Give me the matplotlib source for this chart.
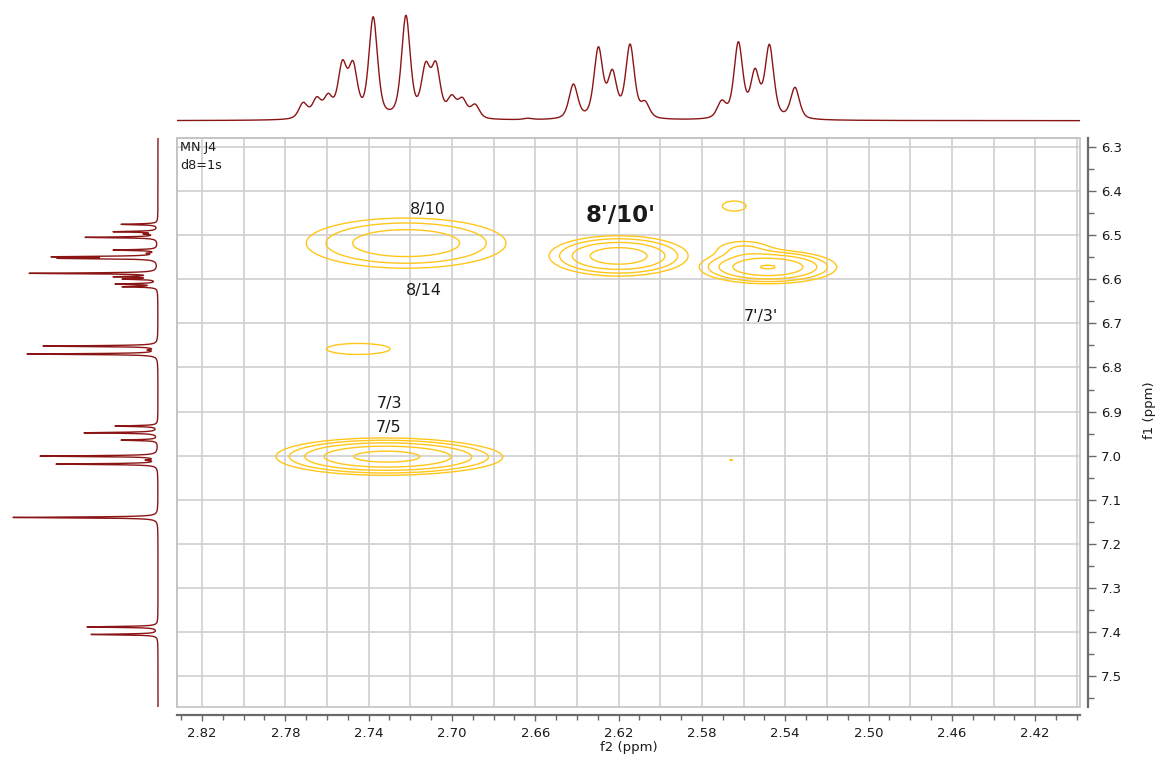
import numpy as np
import matplotlib
matplotlib.use("Agg")
import matplotlib.pyplot as plt
from matplotlib.patches import Rectangle
from matplotlib.ticker import FixedLocator, MultipleLocator

# ---------------- data ----------------
# top 1D projection (f2): line positions (ppm) and heights (px above baseline)
top_ppm = [2.7714, 2.7649, 2.7594, 2.7526, 2.7475, 2.7378, 2.7221, 2.7126, 2.7077,
           2.7001, 2.6950, 2.6889, 2.6635, 2.6417, 2.6297, 2.6230, 2.6145, 2.6073,
           2.5705, 2.5625, 2.5545, 2.5476, 2.5353]
top_height = [18.4, 24.0, 27.4, 60.7, 60.0, 104.0, 105.4, 59.0, 59.4,
              26.0, 23.4, 16.7, 2.5, 36.7, 74.0, 51.4, 76.7, 20.0,
              20.7, 79.0, 52.4, 76.4, 33.4]

# left 1D projection (f1): line positions (ppm) and depths (px from baseline)
side_ppm = [6.4754, 6.4921, 6.4974, 6.5049, 6.5337, 6.5411, 6.5489, 6.5525, 6.5865,
            6.5942, 6.5995, 6.6108, 6.6169, 6.7515, 6.7605, 6.7696, 6.9329, 6.9481,
            6.9647, 7.0010, 7.0101, 7.0191, 7.1401, 7.3883, 7.4055]
side_height = [37, 45, 15, 73, 45, 12, 107, 101, 129,
               45, 36, 43, 36, 115, 11, 131, 43, 74,
               37, 118, 13, 102, 145, 71, 67]

# 2D cross peaks: f2 centre, f1 centre, amplitude (in units of lowest level), widths, group
cross_f2 = [2.722, 2.620, 2.5483, 2.560, 2.745, 2.5645, 2.566, 2.7335, 2.712]
cross_f1 = [6.518, 6.547, 6.5722, 6.532, 6.758, 6.434, 7.010, 7.002, 7.004]
cross_amp = [7.0, 12.2, 16.6, 2.2, 1.25, 1.2, 1.04, 19.0, 3.0]
cross_wf2 = [0.0243, 0.0149, 0.0139, 0.009, 0.023, 0.0095, 0.004, 0.0210, 0.020]
cross_wf1 = [0.0288, 0.0204, 0.0160, 0.014, 0.0187, 0.019, 0.004, 0.0172, 0.016]
cross_group = [0, 1, 2, 2, 3, 4, 5, 6, 6]
contour_levels = [1, 2, 4, 8, 16]

# annotations
ann_text = ["8/10", "8/14", "8'/10'", "7'/3'", "7/3", "7/5"]
ann_f2 = [2.7115, 2.7134, 2.6189, 2.5516, 2.7302, 2.7302]
ann_f1 = [6.4407, 6.6244, 6.4543, 6.6834, 6.8808, 6.9352]
ann_bold = [False, False, True, False, False, False]

f2_ticks = [2.82, 2.78, 2.74, 2.70, 2.66, 2.62, 2.58, 2.54, 2.50, 2.46, 2.42]
f1_ticks = [6.3, 6.4, 6.5, 6.6, 6.7, 6.8, 6.9, 7.0, 7.1, 7.2, 7.3, 7.4, 7.5]

# ---------------- layout ----------------
W, H = 1163, 758
fig = plt.figure(figsize=(W / 100, H / 100), dpi=100)


def fax(x0, y0, x1, y1):
    return fig.add_axes([x0 / W, 1 - y1 / H, (x1 - x0) / W, (y1 - y0) / H])


XLIM = (2.832, 2.3985)
YLIM = (7.570, 6.2796)
SPEC = "#8b1515"
CONT = "#ffc61a"
GRID = "#cfcfcf"
AXC = "#6a6a6a"
TXT = "#1a1a1a"

main = fax(177, 138, 1080, 707)
top = fax(177, 0, 1080, 125)
left = fax(0, 138, 165, 707)


def shape(d, fwhm, eta):
    g = np.exp(-4 * np.log(2) * (d / fwhm) ** 2)
    lo = 1.0 / (1.0 + (2 * d / fwhm) ** 2)
    return eta * lo + (1 - eta) * g


def spectrum(axis, pos, hts, fwhm, eta):
    pos = np.asarray(pos, float)
    hts = np.asarray(hts, float)
    M = shape(pos[:, None] - pos[None, :], fwhm, eta)
    amp = np.clip(np.linalg.solve(M, hts), 0, None)
    return (amp[None, :] * shape(axis[:, None] - pos[None, :], fwhm, eta)).sum(1)


# top projection
xs = np.linspace(XLIM[1], XLIM[0], 5000)
top.plot(xs, spectrum(xs, top_ppm, top_height, 0.0050, 0.5), color=SPEC, lw=1.0)
top.set_xlim(XLIM)
top.set_ylim(-4.3, 120.7)
top.axis("off")

# left projection
ys = np.linspace(YLIM[1], YLIM[0], 9000)
left.plot(spectrum(ys, side_ppm, side_height, 0.0024, 1.0), ys, color=SPEC, lw=1.0)
left.set_xlim(158, -7)
left.set_ylim(YLIM)
left.axis("off")

# main 2D
for v in np.arange(2.40, 2.83, 0.02):
    main.axvline(v, color=GRID, lw=1.2, zorder=0)
for v in np.arange(6.3, 7.56, 0.1):
    main.axhline(v, color=GRID, lw=1.2, zorder=0)

gx = np.round(2.398 + 0.002 * np.arange(220), 4)
gy = np.round(6.27 + 0.004 * np.arange(330), 4)
GX, GY = np.meshgrid(gx, gy)
groups = {}
for cx, cy, a, sx, sy, g in zip(cross_f2, cross_f1, cross_amp, cross_wf2, cross_wf1, cross_group):
    z = a * np.exp(-0.5 * (((GX - cx) / sx) ** 2 + ((GY - cy) / sy) ** 2))
    groups[g] = groups.get(g, 0) + z
Z = np.max(np.stack(list(groups.values())), axis=0)
main.contour(GX, GY, Z, levels=contour_levels, colors=CONT, linewidths=1.0, zorder=2)

for t, x, y, b in zip(ann_text, ann_f2, ann_f1, ann_bold):
    main.text(x, y, t, ha="center", va="center", color=TXT,
              fontsize=16.5 if b else 11.5, fontweight="bold" if b else "normal", zorder=3)

main.text(2.8305, 6.302, "MN J4", fontsize=9.2, color=TXT, ha="left", va="center")
main.text(2.8305, 6.343, "d8=1s", fontsize=9.2, color=TXT, ha="left", va="center")

main.set_xlim(XLIM)
main.set_ylim(YLIM)

main.xaxis.set_major_locator(FixedLocator(f2_ticks))
main.xaxis.set_minor_locator(MultipleLocator(0.01))
main.set_xticklabels([f"{v:.2f}" for v in f2_ticks])
main.yaxis.tick_right()
main.yaxis.set_major_locator(FixedLocator(f1_ticks))
main.yaxis.set_minor_locator(MultipleLocator(0.05))
main.set_yticklabels([f"{v:.1f}" for v in f1_ticks])

main.tick_params(axis="x", which="both", direction="out", color=AXC, labelcolor=TXT,
                 labelsize=9.5, pad=4, width=1.0)
main.tick_params(axis="x", which="major", length=4.5)
main.tick_params(axis="x", which="minor", length=3.5)
main.tick_params(axis="y", which="both", direction="out", color=AXC, labelcolor=TXT,
                 labelsize=9.5, pad=3, width=1.0, left=False, right=True)
main.tick_params(axis="y", which="major", length=6)
main.tick_params(axis="y", which="minor", length=4)

for s in ("left", "top"):
    main.spines[s].set_color("#c4c4c4")
    main.spines[s].set_linewidth(1.2)
for s in ("right", "bottom"):
    main.spines[s].set_position(("outward", 6))
    main.spines[s].set_color(AXC)
    main.spines[s].set_linewidth(1.6)
main.add_patch(Rectangle((0, 0), 1, 1, transform=main.transAxes, fill=False,
                         ec="#c4c4c4", lw=1.2, clip_on=False, zorder=5))

fig.text(629 / W, 1 - 747 / H, "f2 (ppm)", ha="center", va="center", fontsize=9.5, color=TXT)
fig.text(1150 / W, 1 - 410 / H, "f1 (ppm)", ha="center", va="center", fontsize=9.5,
         color=TXT, rotation=90)

fig.savefig("out.png", dpi=100)
